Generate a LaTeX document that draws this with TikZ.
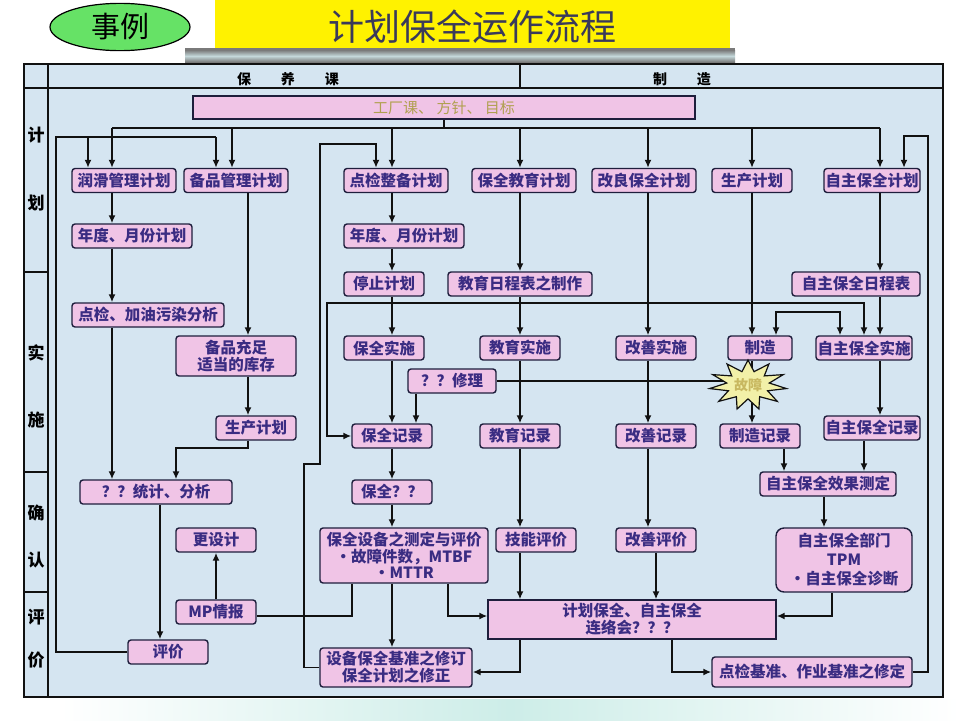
\documentclass[tikz,border=0pt]{standalone}
\usepackage{fontspec}
\newfontfamily\cjk{Noto Sans CJK SC}
\usetikzlibrary{arrows.meta,shapes.geometric,calc}
\definecolor{tablebg}{HTML}{D5E5F1}
\definecolor{boxfill}{HTML}{F0C4E6}
\definecolor{boxline}{HTML}{1E1E3C}
\definecolor{boxtext}{HTML}{3A2C82}
\definecolor{lineblack}{HTML}{111111}
\definecolor{titlecol}{HTML}{3A3A5A}
\definecolor{ellgreen}{HTML}{66E266}
\definecolor{toptext}{HTML}{B0A050}
\definecolor{starfill}{HTML}{F2F0A8}
\definecolor{startext}{HTML}{C8B860}
\definecolor{bandteal}{HTML}{CDEDE8}
\definecolor{bardark}{HTML}{7A7A7A}
\definecolor{barlight}{HTML}{C4D8DA}
\pgfdeclarelayer{bg}\pgfdeclarelayer{edges}\pgfsetlayers{bg,edges,main}
\begin{document}
\begin{tikzpicture}[x=1pt,y=-1pt,
  box/.style={draw=boxline, fill=boxfill, line width=1.4pt, rounded corners=3pt, text=boxtext,
    font=\cjk\bfseries\fontsize{15.5}{17}\selectfont, inner sep=0pt, minimum height=24pt, align=center},
  lbl/.style={font=\cjk\bfseries\fontsize{17}{18}\selectfont, text=black, inner sep=0pt},
  ln/.style={line width=1.6pt, draw=lineblack},
  arr/.style={ln, -{Latex[length=8pt,width=7pt]}},
  arrb/.style={ln, {Latex[length=8pt,width=7pt]}-{Latex[length=8pt,width=7pt]}},
]
\useasboundingbox (0,0) rectangle (960,720);
\begin{pgfonlayer}{bg}
  \fill[white] (0,0) rectangle (960,720);
  \shade[left color=white, right color=white, middle color=bandteal] (60,699) rectangle (960,720);
  \fill[yellow] (215,0) rectangle (730,48);
  \fill[bardark] (185,48) rectangle (735,63);
  \shade[top color=bardark, bottom color=bardark, middle color=barlight] (185,50) rectangle (735,62);
  \filldraw[fill=tablebg, draw=lineblack, line width=1.6pt] (24,64) rectangle (943,697);
  \draw[ln] (48,64) -- (48,697);
  \draw[ln] (24,88) -- (943,88);
  \draw[ln] (520,64) -- (520,88);
  \draw[ln] (24,272) -- (48,272);
  \draw[ln] (24,472) -- (48,472);
  \draw[ln] (24,592) -- (48,592);
\end{pgfonlayer}

% title
\node[font=\cjk\fontsize{36}{40}\selectfont, text=titlecol] (title) at (472,27) {计划保全运作流程};
\node[ellipse, draw=black, line width=1.2pt, fill=ellgreen, minimum width=140pt, minimum height=46pt,
  font=\cjk\fontsize{29}{32}\selectfont] (case) at (120,27) {事例};
% header
\node[font=\cjk\bfseries\fontsize{14}{16}\selectfont] (hb) at (288,79) {保\hspace{30pt}养\hspace{30pt}课};
\node[font=\cjk\bfseries\fontsize{14}{16}\selectfont] (hz) at (682,79) {制\hspace{30pt}造};
% left labels
\node[lbl] (L1) at (36,135) {计};
\node[lbl] (L2) at (36,203) {划};
\node[lbl] (L3) at (36,353) {实};
\node[lbl] (L4) at (36,420) {施};
\node[lbl] (L5) at (36,513) {确};
\node[lbl] (L6) at (36,560) {认};
\node[lbl] (L7) at (36,617) {评};
\node[lbl] (L8) at (36,660) {价};

% top box
\node[box, rounded corners=0pt, minimum width=502pt, minimum height=23pt, text=toptext,
  font=\cjk\fontsize{15}{17}\selectfont] (top) at (444,107.5) {工厂课、\ 方针、\ 目标};

% row 1
\node[box, minimum width=104pt] (r1a) at (124,180.5) {润滑管理计划};
\node[box, minimum width=104pt] (r1b) at (236,180.5) {备品管理计划};
\node[box, minimum width=104pt] (m1) at (396,180.5) {点检整备计划};
\node[box, minimum width=104pt] (e1) at (524,180.5) {保全教育计划};
\node[box, minimum width=104pt] (k1) at (644,180.5) {改良保全计划};
\node[box, minimum width=80pt] (p1) at (752,180.5) {生产计划};
\node[box, minimum width=96pt] (z1) at (872,180.5) {自主保全计划};
% row 2
\node[box, minimum width=120pt] (l2) at (132,236) {年度、月份计划};
\node[box, minimum width=120pt] (m2) at (404,236) {年度、月份计划};
% row 3
\node[box, minimum width=80pt] (m3) at (384,284) {停止计划};
\node[box, minimum width=144pt] (e3) at (520,284) {教育日程表之制作};
\node[box, minimum width=128pt] (z3) at (856,284) {自主保全日程表};
% left column
\node[box, minimum width=152pt] (l3) at (148,315) {点检、加油污染分析};
\node[box, minimum width=120pt, minimum height=40pt, font=\cjk\bfseries\fontsize{15.5}{17}\selectfont] (bz) at (236,356) {备品充足\\适当的库存};
\node[box, minimum width=80pt] (lp) at (256,428) {生产计划};
\node[box, minimum width=152pt] (ls) at (156,492) {？？统计、分析};
% row 4
\node[box, minimum width=80pt] (m4) at (384,348) {保全实施};
\node[box, minimum width=80pt] (e4) at (520,348) {教育实施};
\node[box, minimum width=80pt] (k4) at (656,348) {改善实施};
\node[box, minimum width=64pt] (p4) at (760,348) {制造};
\node[box, minimum width=96pt] (z4) at (864,348) {自主保全实施};
\node[box, minimum width=88pt] (rep) at (452,381) {？？修理};
% row 5
\node[box, minimum width=80pt] (m5) at (392,436) {保全记录};
\node[box, minimum width=80pt] (e5) at (520,436) {教育记录};
\node[box, minimum width=80pt] (k5) at (656,436) {改善记录};
\node[box, minimum width=80pt] (p5) at (760,436) {制造记录};
\node[box, minimum width=96pt] (z5) at (872,428) {自主保全记录};
\node[box, minimum width=80pt] (m6) at (392,492) {保全？？};
\node[box, minimum width=136pt] (z6) at (828,484) {自主保全效果测定};
% row 7
\node[box, minimum width=80pt] (gs) at (216,540) {更设计};
\node[box, minimum width=168pt, minimum height=55pt, font=\cjk\bfseries\fontsize{15.5}{16.5}\selectfont] (m7) at (404,555.5) {保全设备之测定与评价\\•故障件数，MTBF\\•MTTR};
\node[box, minimum width=80pt] (e7) at (536,540) {技能评价};
\node[box, minimum width=80pt] (k7) at (656,540) {改善评价};
\node[box, minimum width=136pt, minimum height=64pt, rounded corners=8pt, font=\cjk\bfseries\fontsize{15.5}{19}\selectfont] (z7) at (844,560) {自主保全部门\\TPM\\•自主保全诊断};
% bottom
\node[box, minimum width=80pt] (mp) at (216,612) {MP情报};
\node[box, rounded corners=0pt, minimum width=288pt, minimum height=39pt, font=\cjk\bfseries\fontsize{15.5}{17}\selectfont] (lh) at (632,619.5) {计划保全、自主保全\\连络会？？？};
\node[box, minimum width=80pt] (pj) at (168,652) {评价};
\node[box, minimum width=152pt, minimum height=39pt, font=\cjk\bfseries\fontsize{15.5}{17}\selectfont] (xd) at (396,667.5) {设备保全基准之修订\\保全计划之修正};
\node[box, minimum width=200pt, minimum height=30pt] (dj) at (812,672) {点检基准、作业基准之修定};

% star
\begin{scope}[shift={(748,385)}, xscale=1.55]
  \node[star, star points=11, star point ratio=1.8, minimum size=50pt, inner sep=0pt,
    draw=lineblack, fill=starfill, line width=1.2pt, transform shape] (gz) at (0,0) {};
\end{scope}
\node[font=\cjk\bfseries\fontsize{14}{15}\selectfont, text=startext] (gzt) at (748,385) {故障};

% helper coordinates
\foreach \v in {56,88,112,160,176,216,232,248,304,320,327,352,376,392,416,448,520,648,656,672,752,776,784,824,832,840,864,880,904,928}
  {\coordinate (X\v) at (\v,0);}
\foreach \v in {128,136,137,144,303,312,448,464,616,672}
  {\coordinate (Y\v) at (0,\v);}

\begin{pgfonlayer}{edges}
  % top bus
  \draw[ln] (top.south) -- (top.south |- Y128);
  \draw[ln] (X112 |- Y128) -- (X880 |- Y128);
  \foreach \xx/\nn in {112/r1a, 232/r1b, 392/m1, 520/e1, 648/k1, 752/p1, 880/z1}
    {\draw[arr] (X\xx |- Y128) -- (\nn.north -| X\xx);}
  % feedback from evaluation
  \draw[ln] (pj.west) -- (X56 |- pj.west) -- (X56 |- Y137) -- (X216 |- Y137);
  \draw[arr] (X216 |- Y137) -- (r1b.north -| X216);
  \draw[arr] (X88 |- Y137) -- (r1a.north -| X88);
  % left column
  \draw[arr] (r1a.south -| X112) -- (l2.north -| X112);
  \draw[arr] (l2.south -| X112) -- (l3.north -| X112);
  \draw[arr] (l3.south -| X112) -- (ls.north -| X112);
  \draw[arr] (r1b.south -| X248) -- (bz.north -| X248);
  \draw[arr] (bz.south -| X248) -- (lp.north -| X248);
  \draw[arr] (lp.south -| X248) -- (X248 |- Y448) -- (X176 |- Y448) -- (ls.north -| X176);
  \draw[arr] (ls.south -| X160) -- (pj.north -| X160);
  \draw[arr] (mp.north) -- (gs.south);
  \draw[ln] (m7.south -| X352) -- (X352 |- Y616) -- (mp.east |- Y616);
  % big loop
  \draw[arr] (xd.west) -- (X304 |- xd.west) -- (X304 |- Y464) -- (X320 |- Y464) -- (X320 |- Y144) -- (X376 |- Y144) -- (m1.north -| X376);
  % middle column
  \draw[arr] (m1.south -| X392) -- (m2.north -| X392);
  \draw[arr] (m2.south -| X392) -- (m3.north -| X392);
  \draw[arr] (m3.south -| X392) -- (m4.north -| X392);
  \draw[arr] (m4.south -| X392) -- (m5.north -| X392);
  \draw[arr] (m5.south -| X392) -- (m6.north -| X392);
  \draw[arr] (m6.south -| X392) -- (m7.north -| X392);
  \draw[arr] (m7.south -| X392) -- (xd.north -| X392);
  \draw[arr] (rep.south -| X416) -- (m5.north -| X416);
  \draw[ln] (rep.east) -- (rep.east -| gz.center);
  \draw[arrb] (m5.west) -- (X327 |- m5.west) -- (X327 |- Y303) -- (X864 |- Y303) -- (z4.north -| X864);
  % education column
  \draw[arr] (e1.south -| X520) -- (e3.north -| X520);
  \draw[arr] (e3.south -| X520) -- (e4.north -| X520);
  \draw[arr] (e4.south -| X520) -- (e5.north -| X520);
  \draw[arr] (e5.south -| X520) -- (e7.north -| X520);
  \draw[arr] (e7.south -| X520) -- (lh.north -| X520);
  % improvement column
  \draw[arr] (k1.south -| X648) -- (k4.north -| X648);
  \draw[arr] (k4.south -| X648) -- (k5.north -| X648);
  \draw[arr] (k5.south -| X648) -- (k7.north -| X648);
  \draw[arr] (k7.south -| X656) -- (lh.north -| X656);
  % production column
  \draw[arr] (p1.south -| X752) -- (p4.north -| X752);
  \draw[arr] (p4.south -| X752) -- (p5.north -| X752);
  \draw[arrb] (p4.north -| X776) -- (X776 |- Y312) -- (X840 |- Y312) -- (z4.north -| X840);
  \draw[arr] (p5.south -| X784) -- (z6.north -| X784);
  % autonomous column
  \draw[arr] (z1.south -| X880) -- (z3.north -| X880);
  \draw[arr] (z3.south -| X880) -- (z4.north -| X880);
  \draw[arr] (z4.south -| X880) -- (z5.north -| X880);
  \draw[arr] (z5.south -| X864) -- (z6.north -| X864);
  \draw[arr] (z6.south -| X824) -- (z7.north -| X824);
  \draw[arr] (z7.south -| X832) -- (X832 |- Y616) -- (lh.east |- Y616);
  \draw[arr] (dj.east) -- (X928 |- dj.east) -- (X928 |- Y136) -- (X904 |- Y136) -- (z1.north -| X904);
  % bottom
  \draw[arr] (m7.south -| X448) -- (X448 |- Y616) -- (lh.west |- Y616);
  \draw[arr] (lh.south -| X520) -- (X520 |- Y672) -- (xd.east |- Y672);
  \draw[arr] (lh.south -| X672) -- (X672 |- Y672) -- (dj.west |- Y672);
\end{pgfonlayer}
\end{tikzpicture}
\end{document}
